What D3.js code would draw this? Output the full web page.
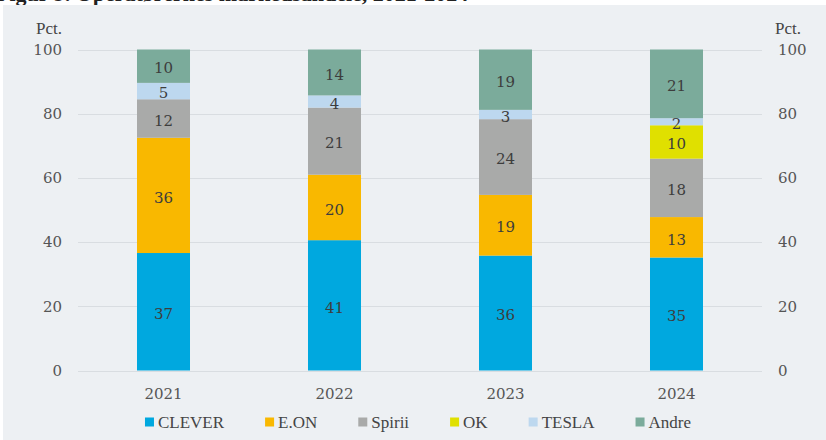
<!DOCTYPE html>
<html>
<head>
<meta charset="utf-8">
<script src="https://cdn.jsdelivr.net/npm/d3@7"></script>
<style>
  body { margin: 0; background: #fff; }
  svg { display: block; }
</style>
</head>
<body>
<svg id="chart" width="826" height="440"></svg>
<script>
// chart data (pct.)
const years = ["2021", "2022", "2023", "2024"];
const clever = [36.6, 40.6, 35.8, 35.2];
const eon    = [35.9, 20.4, 18.9, 12.6];
const spirii = [12.0, 20.9, 23.6, 18.2];
const ok     = [0,    0,    0,    10.4];
const tesla  = [5.1,  3.8,  2.9,  2.2];
const andre  = [10.4, 14.3, 18.8, 21.4];
const seriesNames = ["CLEVER", "E.ON", "Spirii", "OK", "TESLA", "Andre"];
const seriesColors = ["#00a8df", "#f9b800", "#a9aaa9", "#e0e000", "#bdd8ef", "#7bab9b"];
const yTicks = [0, 20, 40, 60, 80, 100];
const unitLabel = "Pct.";
const titleText = "Figur 9. Operatørernes markedsandele, 2021-2024";

const numFont = "'DejaVu Serif', Georgia, serif";
const textFont = "'Liberation Serif', 'Times New Roman', serif";

const svg = d3.select("#chart");

// title, mostly cut off at the top edge
svg.append("text")
  .attr("x", -4)
  .attr("y", 1)
  .attr("font-family", textFont)
  .attr("font-weight", "bold")
  .attr("font-size", 22)
  .attr("fill", "#222")
  .text(titleText);

// panel background
svg.append("rect")
  .attr("x", 3).attr("y", 5)
  .attr("width", 823).attr("height", 435)
  .attr("fill", "#edf0f3");

const left = 78, right = 762;
const x = d3.scaleBand().domain(years).range([left, right])
  .paddingInner(0.69).paddingOuter(0.345);
const y = d3.scaleLinear().domain([0, 100]).range([370.5, 49.5]);

const rows = years.map((yr, i) => ({
  year: yr,
  "CLEVER": clever[i], "E.ON": eon[i], "Spirii": spirii[i],
  "OK": ok[i], "TESLA": tesla[i], "Andre": andre[i]
}));
const stacked = d3.stack().keys(seriesNames)(rows);
const color = d3.scaleOrdinal().domain(seriesNames).range(seriesColors);

// gridlines
svg.append("g")
  .selectAll("line")
  .data(yTicks)
  .join("line")
  .attr("x1", left).attr("x2", right)
  .attr("y1", d => Math.round(y(d)) + 0.5)
  .attr("y2", d => Math.round(y(d)) + 0.5)
  .attr("stroke", "#d9dde1")
  .attr("stroke-width", 1);

// left and right axes
const leftAxis = svg.append("g")
  .attr("transform", `translate(${left - 16},0)`)
  .call(d3.axisLeft(y).tickValues(yTicks).tickSize(0).tickPadding(0));
const rightAxis = svg.append("g")
  .attr("transform", `translate(${right + 16},0)`)
  .call(d3.axisRight(y).tickValues(yTicks).tickSize(0).tickPadding(0));
[leftAxis, rightAxis].forEach(g => {
  g.select(".domain").remove();
  g.selectAll("text")
    .attr("font-family", numFont)
    .attr("font-size", 15)
    .attr("fill", "#555");
});

// unit labels
svg.append("text")
  .attr("x", left - 16).attr("y", 34)
  .attr("text-anchor", "end")
  .attr("font-family", textFont).attr("font-size", 17).attr("fill", "#444")
  .text(unitLabel);
svg.append("text")
  .attr("x", right + 13).attr("y", 34)
  .attr("text-anchor", "start")
  .attr("font-family", textFont).attr("font-size", 17).attr("fill", "#444")
  .text(unitLabel);

// bars
const layers = svg.append("g")
  .selectAll("g")
  .data(stacked)
  .join("g")
  .attr("fill", d => color(d.key));

layers.selectAll("rect")
  .data(d => d.filter(s => s[1] - s[0] > 0))
  .join("rect")
  .attr("x", d => x(d.data.year))
  .attr("width", x.bandwidth())
  .attr("y", d => y(d[1]))
  .attr("height", d => y(d[0]) - y(d[1]));

// value labels
const fmt = d3.format(".0f");
svg.append("g")
  .selectAll("g")
  .data(stacked)
  .join("g")
  .selectAll("text")
  .data(d => d.filter(s => s[1] - s[0] > 0))
  .join("text")
  .attr("x", d => x(d.data.year) + x.bandwidth() / 2)
  .attr("y", d => (y(d[0]) + y(d[1])) / 2 + 2)
  .attr("dy", "0.35em")
  .attr("text-anchor", "middle")
  .attr("font-family", numFont)
  .attr("font-size", 15)
  .attr("fill", "#3d3d3d")
  .text(d => fmt(d[1] - d[0]));

// x axis labels
const xAxis = svg.append("g")
  .attr("transform", "translate(0,388)")
  .call(d3.axisBottom(x).tickSize(0).tickPadding(0));
xAxis.select(".domain").remove();
xAxis.selectAll("text")
  .attr("dy", "0.71em")
  .attr("font-family", numFont)
  .attr("font-size", 15)
  .attr("fill", "#555");

// legend
const legend = svg.append("g");
let lx = 0;
seriesNames.forEach((name, i) => {
  const item = legend.append("g").attr("transform", `translate(${lx},0)`);
  item.append("rect")
    .attr("x", 0).attr("y", -4.5)
    .attr("width", 9).attr("height", 9)
    .attr("fill", seriesColors[i]);
  const t = item.append("text")
    .attr("x", 13).attr("y", 0)
    .attr("dy", "0.35em")
    .attr("font-family", textFont)
    .attr("font-size", 17)
    .attr("fill", "#444")
    .text(name);
  lx += 13 + t.node().getComputedTextLength() + 41;
});
const legendWidth = lx - 41;
legend.attr("transform", `translate(${418 - legendWidth / 2},422)`);
</script>
</body>
</html>
